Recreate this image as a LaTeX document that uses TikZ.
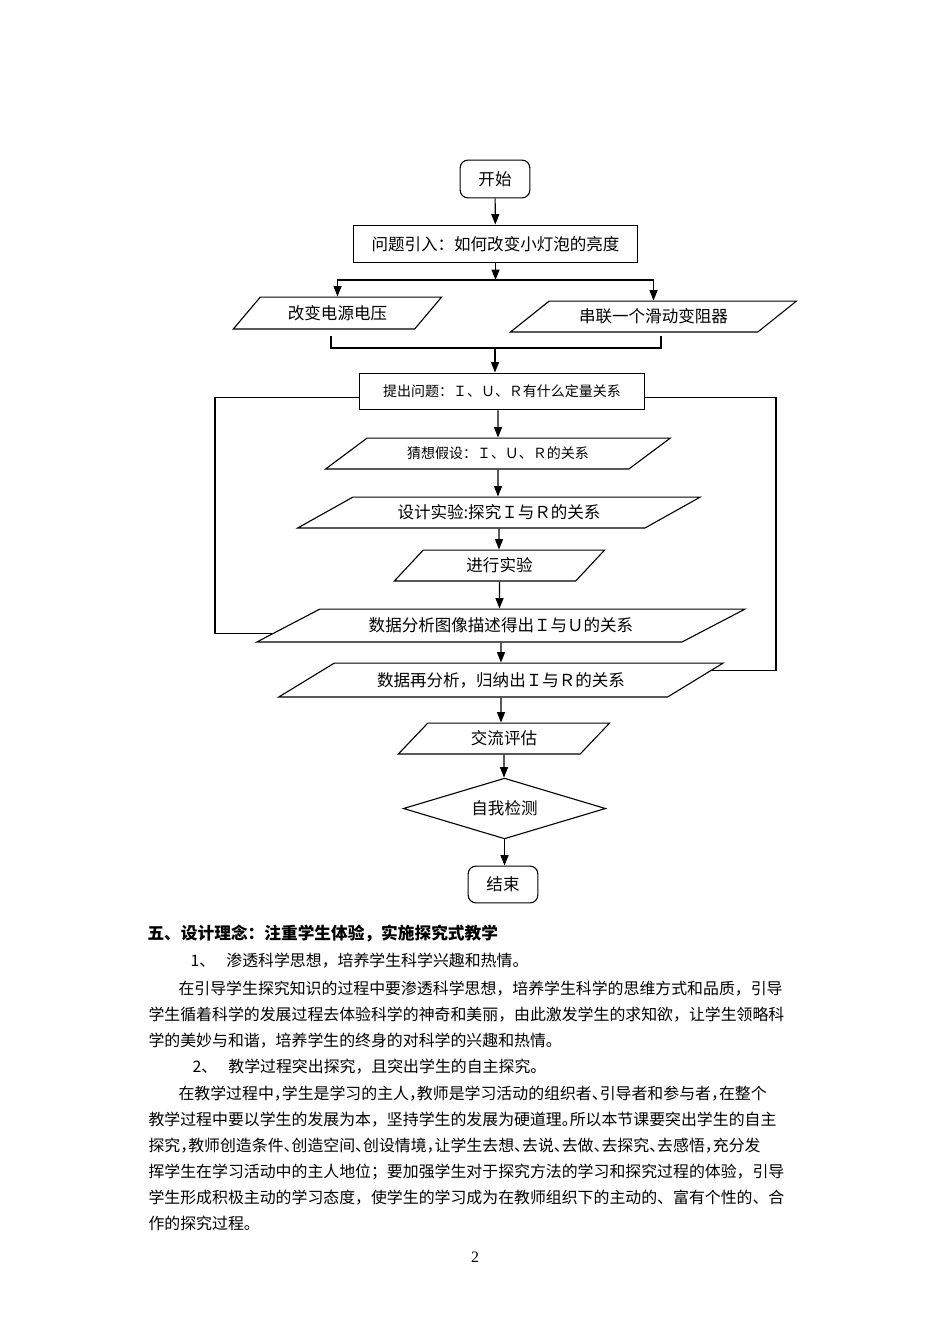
\documentclass[tikz,border=0pt]{standalone}
\usepackage{fontspec}
\setmainfont{Liberation Serif}
\newfontfamily\cjk{Noto Sans CJK SC}
\usetikzlibrary{shapes.geometric, arrows.meta, positioning, calc}
\XeTeXlinebreaklocale "zh"
\XeTeXlinebreakskip = 0pt plus 3pt minus 1.2pt
\newcommand{\pxl}{0.6267pt}
\newcommand{\halfp}[1]{\makebox[0.5em][l]{#1}}

\tikzstyle{arrow} = [->, >={Triangle[length=6.5pt, width=5pt]}]
\tikzstyle{terminal} = [rectangle, rounded corners=5pt, draw, minimum width=70*\pxl, minimum height=38*\pxl, font=\cjk\fontsize{10.4}{12}\selectfont]
\tikzstyle{process} = [rectangle, draw, minimum height=38*\pxl, font=\cjk\fontsize{10.4}{12}\selectfont]
\tikzstyle{decision} = [diamond, aspect=3.3, draw, inner sep=0pt, minimum width=203*\pxl, minimum height=61*\pxl, font=\cjk\fontsize{10.4}{12}\selectfont]
\tikzset{io/.style={trapezium, trapezium stretches body, trapezium left angle=#1, trapezium right angle={180-#1}, draw, inner sep=2pt, font=\cjk\fontsize{10.4}{12}\selectfont}}
\tikzstyle{para} = [anchor=west, inner sep=0pt, text height=7.5pt, text depth=1.5pt, font=\cjk\fontsize{10}{12}\selectfont]

\begin{document}
\begin{tikzpicture}[x=0.02211cm, y=-0.02211cm, line width=0.7pt]
  \useasboundingbox (0,0) rectangle (950,1344);

  % flow chart
  \node[terminal] (start) at (495,179) {开始};
  \node[process, minimum width=285*\pxl] (intro) at (495.5,244) {问题引入：如何改变小灯泡的亮度};
  \node[io=39, minimum width=209*\pxl, minimum height=32*\pxl] (volt) at (337.5,313) {改变电源电压};
  \node[io=29.5, minimum width=287*\pxl, minimum height=31*\pxl] (rheo) at (653.5,316.5) {串联一个滑动变阻器};
  \node[process, minimum width=286*\pxl, minimum height=37*\pxl, font=\cjk\fontsize{8.8}{10}\selectfont] (ask) at (502,391.5) {提出问题：Ｉ、Ｕ、Ｒ有什么定量关系};
  \node[io=25, minimum width=346*\pxl, minimum height=31*\pxl, font=\cjk\fontsize{8.8}{10}\selectfont] (guess) at (498,453.5) {猜想假设：Ｉ、Ｕ、Ｒ的关系};
  \node[io=21.5, minimum width=404*\pxl, minimum height=31*\pxl] (design) at (499,512.5) {设计实验:探究Ｉ与Ｒ的关系};
  \node[io=37, minimum width=211*\pxl, minimum height=31*\pxl] (exper) at (499.5,565.5) {进行实验};
  \node[io=19, minimum width=490*\pxl, minimum height=33*\pxl] (analyU) at (501,625.5) {数据分析图像描述得出Ｉ与Ｕ的关系};
  \node[io=21.7, minimum width=446*\pxl, minimum height=34*\pxl] (analyR) at (501,680) {数据再分析，归纳出Ｉ与Ｒ的关系};
  \node[io=36.5, minimum width=212*\pxl, minimum height=31*\pxl] (talk) at (504,738.5) {交流评估};
  \node[decision] (check) at (504.5,808.5) {自我检测};
  \node[terminal, minimum height=37*\pxl] (finish) at (503,884.5) {结束};

  % connectors
  \coordinate (fork) at (495.5,280);
  \coordinate (jl) at (331,336);
  \coordinate (jr) at (661,336);
  \coordinate (join) at (495,348);
  \draw[arrow] (start) -- (intro);
  \draw[arrow] (intro) -- (fork);
  \draw[arrow] (fork) -| (volt.north);
  \draw[arrow] (fork) -| (rheo.north);
  \draw (jl) |- (join) -| (jr);
  \draw[arrow] (join) -- (join |- ask.north);
  \draw[arrow] (guess |- ask.south) -- (guess);
  \draw[arrow] (guess) -- (guess |- design.north);
  \draw[arrow] (design) -- (design |- exper.north);
  \draw[arrow] (exper) -- (exper |- analyU.north);
  \draw[arrow] (analyU) -- (analyU |- analyR.north);
  \draw[arrow] (analyR) -- (analyR |- talk.north);
  \draw[arrow] (talk) -- (talk |- check.north);
  \draw[arrow] (check) -- (check |- finish.north);

  % feedback lines
  \coordinate (lx) at (215,0);
  \coordinate (rx) at (776,0);
  \coordinate (lhit) at ($(analyU.bottom left corner)!0.26!(analyU.top left corner)$);
  \coordinate (rhit) at ($(analyR.top right corner)!0.23!(analyR.bottom right corner)$);
  \draw ([yshift=-3.76pt]ask.west) -| (lhit -| lx) -- (lhit);
  \draw ([yshift=-3.76pt]ask.east) -| (rhit -| rx) -- (rhit);

  % text below
  \node[para, font=\cjk\bfseries\fontsize{10.5}{12}\selectfont] (head) at (147,935) {五、设计理念：注重学生体验，实施探究式教学};
  \node[para] (item1) at (190,962) {1、\hspace{0.7em}渗透科学思想，培养学生科学兴趣和热情。};
  \node[para, text width=617*\pxl, align=justify] (l3) at (178,990) {\noindent\parfillskip=0pt 在引导学生探究知识的过程中要渗透科学思想，培养学生科学的思维方式和品质，引导};
  \node[para, text width=647*\pxl, align=justify] (l4) at (148,1016) {\noindent\parfillskip=0pt 学生循着科学的发展过程去体验科学的神奇和美丽，由此激发学生的求知欲，让学生领略科};
  \node[para] (l5) at (148,1042) {学的美妙与和谐，培养学生的终身的对科学的兴趣和热情。};
  \node[para] (item2) at (192,1068) {2、\hspace{0.7em}教学过程突出探究，且突出学生的自主探究。};
  \node[para, text width=617*\pxl, align=justify] (l7) at (178,1095) {\noindent\parfillskip=0pt 在教学过程中\halfp{，}学生是学习的主人\halfp{，}教师是学习活动的组织者\halfp{、}引导者和参与者\halfp{，}在整个};
  \node[para, text width=647*\pxl, align=justify] (l8) at (148,1121) {\noindent\parfillskip=0pt 教学过程中要以学生的发展为本，坚持学生的发展为硬道理\halfp{。}所以本节课要突出学生的自主};
  \node[para, text width=647*\pxl, align=justify] (l9) at (148,1147) {\noindent\parfillskip=0pt 探究\halfp{，}教师创造条件\halfp{、}创造空间\halfp{、}创设情境\halfp{，}让学生去想\halfp{、}去说\halfp{、}去做\halfp{、}去探究\halfp{、}去感悟\halfp{，}充分发};
  \node[para, text width=647*\pxl, align=justify] (l10) at (148,1173) {\noindent\parfillskip=0pt 挥学生在学习活动中的主人地位；要加强学生对于探究方法的学习和探究过程的体验，引导};
  \node[para, text width=647*\pxl, align=justify] (l11) at (148,1199) {\noindent\parfillskip=0pt 学生形成积极主动的学习态度，使学生的学习成为在教师组织下的主动的、富有个性的、合};
  \node[para] (l12) at (148,1225) {作的探究过程。};
  \node[font=\fontsize{10}{12}\selectfont] (pageno) at (475,1257) {2};
\end{tikzpicture}
\end{document}
